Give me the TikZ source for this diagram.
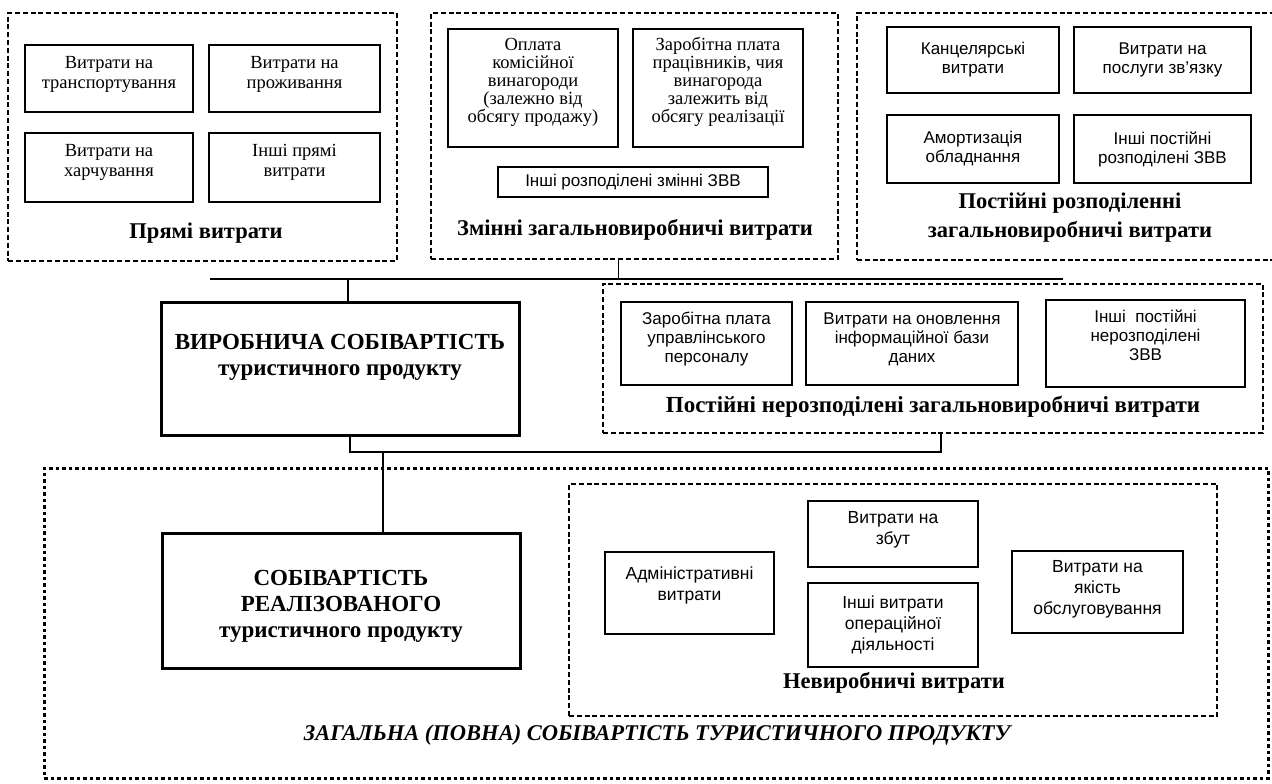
\documentclass[tikz,border=0pt]{standalone}
\usepackage{fontspec}
\setmainfont{Liberation Serif}
\newfontfamily\sansf{Liberation Sans}
\newcommand\RB[7]{\node[#2, minimum width={#5-#3}, minimum height={#6-#4}] (#1) at ({(#3+#5)/2},{(#4+#6)/2}) {#7};}
\begin{document}
\begin{tikzpicture}[x=1pt,y=-1pt,
 grp/.style={draw, line width=1.2pt, dash pattern=on 5pt off 2.8pt, inner sep=0pt},
 item/.style={draw, line width=1.5pt, align=center, inner sep=0pt},
 ser/.style={font=\fontsize{18.5}{20}\selectfont},
 serm/.style={font=\fontsize{18.5}{18}\selectfont},
 sns/.style={font=\sansf\fontsize{17}{19}\selectfont},
 nsn/.style={font=\sansf\fontsize{17}{19}\selectfont},
 nvs/.style={font=\sansf\fontsize{17.5}{21}\selectfont},
 lbl/.style={font=\bfseries\fontsize{22.5}{29}\selectfont, align=center, inner sep=0pt},
 mainbox/.style={draw, line width=3pt, inner sep=0pt},
 outerbox/.style={draw, line width=3pt, dash pattern=on 3.5pt off 3pt, inner sep=0pt},
 conn/.style={line width=1.3pt}
]
\useasboundingbox (0,0) rectangle (1272,784);

% ---------- top-left group
\RB{G1}{grp}{8}{13}{397}{261}{}
\RB{a1}{item,ser}{25}{45}{193}{112}{Витрати на\\транспортування\\[-8pt]}
\RB{a2}{item,ser}{209}{45}{380}{112}{Витрати на\\проживання\\[-8pt]}
\RB{a3}{item,ser}{25}{133}{193}{202}{Витрати на\\харчування\\[-6pt]}
\RB{a4}{item,ser}{209}{133}{380}{202}{Інші прямі\\витрати\\[-6pt]}
\node[lbl] (G1l) at (206,233) {Прямі витрати};

% ---------- top-middle group
\RB{G2}{grp}{431}{13}{838}{259}{}
\RB{b1}{item,serm}{448}{29}{618}{147}{Оплата\\комісійної\\винагороди\\(залежно від\\обсягу продажу)\\[-2pt]}
\RB{b2}{item,serm}{633}{29}{803}{147}{Заробітна плата\\працівників, чия\\винагорода\\залежить від\\обсягу реалізації\\[-2pt]}
\RB{b3}{item,sns}{498}{167}{768}{197}{Інші розподілені змінні ЗВВ}
\node[lbl] (G2l) at (635,230) {Змінні загальновиробничі витрати};

% ---------- top-right group
\RB{G3}{grp}{857}{13}{1278}{260}{}
\RB{c1}{item,sns}{887}{27}{1059}{93}{Канцелярські\\витрати}
\RB{c2}{item,sns}{1074}{27}{1251}{93}{Витрати на\\послуги зв’язку}
\RB{c3}{item,sns}{887}{115}{1059}{183}{Амортизація\\обладнання}
\RB{c4}{item,sns}{1074}{115}{1251}{183}{Інші постійні\\розподілені ЗВВ}
\node[lbl] (G3l) at (1070,218) {Постійні розподіленні\\загальновиробничі витрати};

% ---------- fixed non-allocated group
\RB{G4}{grp}{603}{284}{1263}{433}{}
\RB{d1}{item,nsn}{621}{302}{792}{385}{Заробітна плата\\управлінського\\персоналу\\[-7pt]}
\RB{d2}{item,nsn}{806}{302}{1018}{385}{Витрати на оновлення\\інформаційної бази\\даних\\[-7pt]}
\RB{d3}{item,nsn}{1046}{300}{1245}{387}{Інші \ постійні\\нерозподілені\\ЗВВ\\[-3pt]}
\node[lbl, font=\bfseries\fontsize{23}{29}\selectfont] (G4l) at (933,407) {Постійні нерозподілені загальновиробничі витрати};

% ---------- production cost
\RB{P}{mainbox}{161}{302}{519}{435}{}
\node[align=center, inner sep=0pt, font=\bfseries\fontsize{23}{26}\selectfont] (Pt) at (340,357)
  {ВИРОБНИЧА СОБІВАРТІСТЬ\\туристичного продукту};

% ---------- outer full-cost frame
\RB{O}{outerbox}{44}{468}{1268}{778}{}
\RB{R}{mainbox}{162}{533}{520}{668}{}
\node[align=center, inner sep=0pt, font=\bfseries\fontsize{23}{26}\selectfont] (Rt) at (341,606)
  {СОБІВАРТІСТЬ\\РЕАЛІЗОВАНОГО\\туристичного продукту};

\RB{N}{grp}{569}{484}{1217}{716}{}
\RB{n1}{item,nvs}{605}{552}{774}{634}{Адміністративні\\витрати\\[-3pt]}
\RB{n2}{item,nvs}{808}{501}{978}{567}{Витрати на\\збут\\[-9pt]}
\RB{n3}{item,nvs}{808}{583}{978}{667}{Інші витрати\\операційної\\діяльності}
\RB{n4}{item,nvs}{1012}{551}{1183}{633}{Витрати на\\якість\\обслуговування\\[-11pt]}
\node[lbl] (Nl) at (894,683) {Невиробничі витрати};

\node[lbl, font=\bfseries\itshape\fontsize{22.5}{26}\selectfont] (Ol) at (657,735)
  {ЗАГАЛЬНА (ПОВНА) СОБІВАРТІСТЬ ТУРИСТИЧНОГО ПРОДУКТУ};

% ---------- connectors
\coordinate (busL) at (210,279);
\coordinate (busR) at (1063,279);
\draw[conn] (busL) -- (busR);
\draw[conn] (G2.south -| b1.east) -- (b1.east |- busL);
\draw[conn] ([xshift=8pt]P.north) -- ([xshift=8pt]P.north |- busL);
\coordinate (low) at (0,452);
\draw[conn] ([xshift=10pt]P.south) -- ([xshift=10pt]P.south |- low) -| ([xshift=8pt]G4.south);
\draw[conn] ([xshift=42pt]R.north) -- ([xshift=42pt]R.north |- low);
\end{tikzpicture}
\end{document}
